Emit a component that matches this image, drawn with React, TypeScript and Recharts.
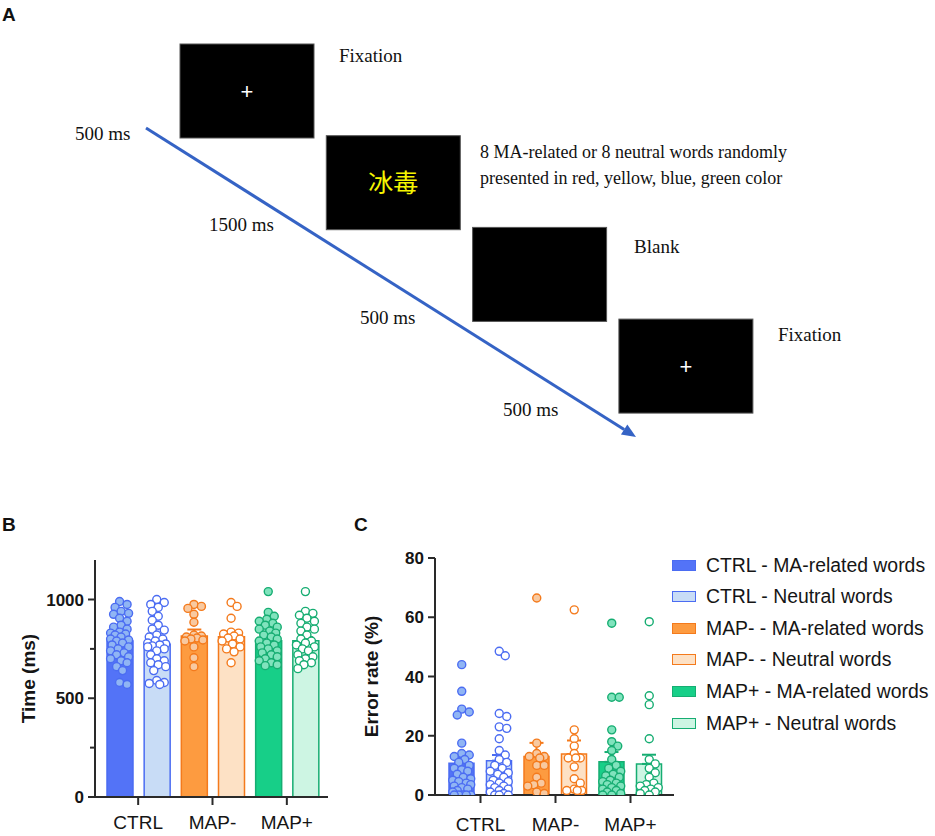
import React from 'react';
import { ComposedChart, Bar, Cell, ErrorBar, Scatter, XAxis, YAxis } from 'recharts';

const SANS = '"Liberation Sans", Arial, Helvetica, sans-serif';
const SERIF = '"Liberation Serif", "Times New Roman", serif';
const CJK = '"Noto Sans CJK SC", "Noto Sans CJK TC", sans-serif';
const AXIS = '#2a2a2a';

const groups = ['CTRL', 'MAP-', 'MAP+'];
const conditions = ['MA-related words', 'Neutral words'];

// B: reaction time (ms), bars = mean, whisker = SEM
const rtMaMean = [790, 815, 791];
const rtMaSem = [18, 33, 19];
const rtNeuMean = [773, 812, 791];
const rtNeuSem = [20, 26, 19];

const rtCtrlMa = [990, 975, 960, 940, 930, 925, 905, 890, 870, 860, 850, 835, 830, 825, 820, 810, 800, 795, 790, 780, 770, 760, 750, 740, 730, 720, 710, 700, 690, 680, 660, 640, 580, 570];
const rtCtrlNeu = [1000, 985, 975, 960, 940, 915, 895, 870, 850, 845, 820, 810, 800, 790, 780, 775, 770, 765, 760, 750, 740, 720, 700, 690, 680, 670, 660, 640, 590, 580, 575, 570];
const rtMapMinusMa = [975, 965, 955, 925, 885, 820, 815, 810, 805, 800, 795, 790, 760, 705, 660];
const rtMapMinusNeu = [985, 965, 905, 835, 830, 825, 815, 805, 800, 790, 775, 760, 750, 735, 680];
const rtMapPlusMa = [1040, 935, 915, 900, 890, 880, 870, 860, 850, 840, 830, 820, 810, 800, 790, 780, 770, 760, 750, 740, 730, 720, 710, 700, 690, 680, 670, 665];
const rtMapPlusNeu = [1040, 940, 930, 920, 905, 890, 880, 860, 850, 840, 820, 800, 790, 780, 770, 760, 750, 740, 720, 710, 700, 690, 680, 670, 650];

// C: error rate (%)
const erMaMean = [10.7, 13, 11.2];
const erMaSem = [1.8, 4.6, 3.3];
const erNeuMean = [11.6, 13.8, 10.5];
const erNeuSem = [1.9, 4.6, 3.1];

const erCtrlMa = [44, 35, 29, 28, 27, 17.5, 14, 13.5, 13, 12, 11, 10, 9, 8.5, 8, 7, 6, 5.5, 5, 4.5, 4, 3.5, 3, 2.5, 2, 1.5, 1, 0, 0, 0, 0, 0];
const erCtrlNeu = [48.5, 47, 27.5, 26.5, 23, 22.5, 19, 15, 13.5, 12, 11, 10, 9, 8, 7.5, 7, 6, 5, 4.5, 4, 3.5, 3, 2.5, 2, 1.5, 1, 0.5, 0, 0, 0];
const erMapMinusMa = [66.5, 17.5, 14, 13, 13, 12.5, 10, 10, 6, 4, 3.5, 3, 1, 0.5];
const erMapMinusNeu = [62.5, 22, 19, 16.5, 14, 12.5, 12.5, 12.5, 9.5, 5.5, 4, 2, 1.5, 1.5, 1.5];
const erMapPlusMa = [58, 33, 33, 22, 18, 16.5, 15, 12, 10, 9, 8, 7, 6.5, 6, 5, 4.5, 4, 3.5, 3, 2.5, 2, 1.5, 1, 0.5, 0, 0];
const erMapPlusNeu = [58.5, 33.5, 30.5, 19, 12, 10.5, 9, 7.5, 6, 4, 3.5, 3, 2.5, 2, 1.5, 1, 0.5, 0];

const palette = [
  { line: '#4b6cf2', dark: '#5373f7', light: '#c8dcf6', dot: '#90b5f4' },
  { line: '#f47a1c', dark: '#fd9b40', light: '#fde1c5', dot: '#f8c9a0' },
  { line: '#16ad72', dark: '#17cf88', light: '#cdf5e3', dot: '#80e3bd' },
];

// simple beeswarm: horizontal offsets (px) so dots don't pile up
function swarm(values: number[], pxPerValue: number, r: number, maxHalf: number) {
  const order = values.map((_, i) => i).sort((a, b) => values[b] - values[a]);
  const placed: { x: number; y: number }[] = [];
  const out = values.map(() => 0);
  const minD = r * 1.75;
  const steps = [0];
  for (let s = 1; s * 1.5 <= maxHalf; s++) steps.push(s * 1.5, -s * 1.5);
  for (const idx of order) {
    const py = values[idx] * pxPerValue;
    let best = 0;
    let bestScore = -Infinity;
    for (const dx of steps) {
      let m = Infinity;
      for (const p of placed) m = Math.min(m, Math.hypot(p.x - dx, p.y - py));
      if (m >= minD) {
        best = dx;
        break;
      }
      if (m > bestScore) {
        bestScore = m;
        best = dx;
      }
    }
    placed.push({ x: best, y: py });
    out[idx] = best;
  }
  return out;
}

type PanelProps = {
  maMean: number[];
  maSem: number[];
  neuMean: number[];
  neuSem: number[];
  points: number[][][];
  yMax: number;
  yTicks: number[];
  yLabeled: number[];
  yTitle: string;
  titleDx: number;
  width: number;
  height: number;
  margin: { top: number; right: number; bottom: number; left: number };
  yAxisWidth: number;
  xAxisHeight: number;
  pad: { left: number; right: number };
  barSize: number;
  labelGap: number;
};

function DotBarPanel(p: PanelProps) {
  const rows: any[] = [];
  groups.forEach((g, gi) => {
    rows.push({ key: `${g} - ${conditions[0]}`, value: p.maMean[gi], g: gi, c: 0, ['err' + gi]: [0, p.maSem[gi]] });
    rows.push({ key: `${g} - ${conditions[1]}`, value: p.neuMean[gi], g: gi, c: 1, ['err' + gi]: [0, p.neuSem[gi]] });
  });

  const plotW = p.width - p.margin.left - p.margin.right - p.yAxisWidth;
  const plotH = p.height - p.margin.top - p.margin.bottom - p.xAxisHeight;
  const pxPerUnit = (plotW - p.pad.left - p.pad.right) / 3;
  const pxPerValue = plotH / p.yMax;

  const YTick = (t: any) => {
    const major = p.yLabeled.includes(t.payload.value);
    return (
      <g>
        <line x1={t.x - (major ? 7 : 5)} x2={t.x} y1={t.y} y2={t.y} stroke={AXIS} strokeWidth={2} />
        {major && (
          <text x={t.x - 11} y={t.y} dy="0.36em" textAnchor="end" fontFamily={SANS} fontWeight={700} fontSize={17} fill="#151515">
            {t.payload.value}
          </text>
        )}
      </g>
    );
  };

  const XTick = (t: any) => (
    <g>
      <line x1={t.x} x2={t.x} y1={t.y} y2={t.y + 8} stroke={AXIS} strokeWidth={2} />
      <text x={t.x} y={t.y + p.labelGap} textAnchor="middle" fontFamily={SANS} fontSize={19} fill="#151515">
        {groups[Math.floor(t.payload.value)]}
      </text>
    </g>
  );

  const scatters: React.ReactNode[] = [];
  groups.forEach((_, gi) => {
    [0, 1].forEach((ci) => {
      const vals = p.points[gi][ci];
      const offs = swarm(vals, pxPerValue, 4, p.barSize / 2 - 3);
      const centre = (gi * 2 + ci + 0.5) / 2;
      const data = vals.map((v, i) => ({ x: centre + offs[i] / pxPerUnit, y: v }));
      const col = palette[gi];
      const fill = ci === 0 ? col.dot : '#ffffff';
      scatters.push(
        <Scatter
          key={`s${gi}${ci}`}
          data={data}
          xAxisId="num"
          yAxisId="pts"
          dataKey="y"
          isAnimationActive={false}
          shape={(s: any) => <circle cx={s.cx} cy={s.cy} r={4} fill={fill} stroke={col.line} strokeWidth={1.4} />}
        />
      );
    });
  });

  return (
    <ComposedChart width={p.width} height={p.height} data={rows} margin={p.margin} barSize={p.barSize}>
      <XAxis
        xAxisId="num"
        type="number"
        dataKey="x"
        domain={[0, 3]}
        ticks={[0.5, 1.5, 2.5]}
        height={p.xAxisHeight}
        padding={p.pad}
        tickSize={0}
        tickMargin={0}
        tickLine={false}
        axisLine={{ stroke: AXIS, strokeWidth: 2 }}
        tick={XTick}
        interval={0}
        allowDataOverflow
      />
      <XAxis xAxisId="bars" dataKey="key" type="category" hide height={0} padding={p.pad} />
      <YAxis
        type="number"
        domain={[0, p.yMax]}
        ticks={p.yTicks}
        width={p.yAxisWidth}
        tickSize={0}
        tickMargin={0}
        tickLine={false}
        tick={YTick}
        interval={0}
        axisLine={{ stroke: AXIS, strokeWidth: 2 }}
        allowDataOverflow
        label={{
          value: p.yTitle,
          angle: -90,
          position: 'center',
          dx: p.titleDx,
          style: { fontFamily: SANS, fontWeight: 700, fontSize: 19, fill: '#151515', textAnchor: 'middle' },
        }}
      />
      <YAxis yAxisId="pts" type="number" dataKey="y" domain={[0, p.yMax]} hide width={0} allowDataOverflow />
      <Bar xAxisId="bars" dataKey="value" isAnimationActive={false} strokeWidth={1.5}>
        {rows.map((r, i) => (
          <Cell key={i} fill={r.c === 0 ? palette[r.g].dark : palette[r.g].light} stroke={palette[r.g].line} />
        ))}
        {groups.map((_, gi) => (
          <ErrorBar key={gi} dataKey={'err' + gi} direction="y" width={7} stroke={palette[gi].line} strokeWidth={2} />
        ))}
      </Bar>
      {scatters}
    </ComposedChart>
  );
}

function PanelA() {
  const boxes = [0, 1, 2, 3].map((i) => ({ x: 180 + 146.3 * i, y: 44 + 91.7 * i }));
  const tail = { x: 146, y: 128 };
  const tip = { x: 636, y: 437 };
  const dx = tip.x - tail.x;
  const dy = tip.y - tail.y;
  const len = Math.hypot(dx, dy);
  const ux = dx / len;
  const uy = dy / len;
  const hl = 14;
  const hw = 6;
  const bx = tip.x - ux * hl;
  const by = tip.y - uy * hl;
  const txt = { fontFamily: SERIF, fontSize: 19, fill: '#111' } as const;
  return (
    <svg width={935} height={500} style={{ position: 'absolute', left: 0, top: 0 }}>
      <text x={2} y={21} fontFamily={SANS} fontWeight={700} fontSize={19} fill="#111">A</text>
      {boxes.map((b, i) => (
        <rect key={i} x={b.x} y={b.y} width={134} height={94} fill="#000" stroke="#555" strokeWidth={1} />
      ))}
      <text x={boxes[0].x + 67} y={boxes[0].y + 47} dy="0.35em" textAnchor="middle" fontFamily={SANS} fontSize={22} fill="#fff">+</text>
      <text x={boxes[3].x + 67} y={boxes[3].y + 47} dy="0.35em" textAnchor="middle" fontFamily={SANS} fontSize={22} fill="#fff">+</text>
      <text x={boxes[1].x + 67} y={boxes[1].y + 47} dy="0.36em" textAnchor="middle" fontFamily={CJK} fontSize={25} fill="#f5f500">冰毒</text>
      <line x1={tail.x} y1={tail.y} x2={bx} y2={by} stroke="#3563c5" strokeWidth={3} />
      <polygon
        points={`${tip.x},${tip.y} ${bx - uy * hw},${by + ux * hw} ${bx + uy * hw},${by - ux * hw}`}
        fill="#3563c5"
      />
      <text x={339} y={62} {...txt}>Fixation</text>
      <text x={75} y={140} {...txt}>500 ms</text>
      <text x={480} y={158} {...txt} fontSize={18}>8 MA-related or 8 neutral words randomly</text>
      <text x={480} y={184} {...txt} fontSize={18}>presented in red, yellow, blue, green color</text>
      <text x={209} y={231} {...txt}>1500 ms</text>
      <text x={634} y={253} {...txt}>Blank</text>
      <text x={360} y={324} {...txt}>500 ms</text>
      <text x={778} y={341} {...txt}>Fixation</text>
      <text x={503} y={416} {...txt}>500 ms</text>
    </svg>
  );
}

function Legend() {
  const items: { label: string; fill: string; stroke: string }[] = [];
  groups.forEach((g, gi) => {
    items.push({ label: `${g} - ${conditions[0]}`, fill: palette[gi].dark, stroke: palette[gi].line });
    items.push({ label: `${g} - ${conditions[1]}`, fill: palette[gi].light, stroke: palette[gi].line });
  });
  return (
    <div style={{ position: 'absolute', left: 672, top: 554 }}>
      {items.map((it, i) => (
        <div key={i} style={{ position: 'absolute', left: 0, top: i * 31.6, display: 'flex', alignItems: 'center', height: 22, whiteSpace: 'nowrap' }}>
          <div style={{ width: 22, height: 9, background: it.fill, border: `1.5px solid ${it.stroke}` }} />
          <span style={{ marginLeft: 10, fontFamily: SANS, fontSize: 19.4, color: '#151515' }}>{it.label}</span>
        </div>
      ))}
    </div>
  );
}

export default function App() {
  const letter = { position: 'absolute', fontFamily: SANS, fontWeight: 700, fontSize: 19, color: '#111', lineHeight: 1 } as const;
  return (
    <div style={{ position: 'absolute', left: 0, top: 0, width: 935, height: 836, background: '#fff', overflow: 'hidden' }}>
      <PanelA />
      <div style={{ ...letter, left: 2, top: 515 }}>B</div>
      <div style={{ ...letter, left: 354, top: 515 }}>C</div>
      <div style={{ position: 'absolute', left: 0, top: 510 }}>
        <DotBarPanel
          maMean={rtMaMean}
          maSem={rtMaSem}
          neuMean={rtNeuMean}
          neuSem={rtNeuSem}
          points={[
            [rtCtrlMa, rtCtrlNeu],
            [rtMapMinusMa, rtMapMinusNeu],
            [rtMapPlusMa, rtMapPlusNeu],
          ]}
          yMax={1200}
          yTicks={[0, 250, 500, 750, 1000]}
          yLabeled={[0, 500, 1000]}
          yTitle="Time (ms)"
          titleDx={-19.5}
          width={340}
          height={326}
          margin={{ top: 50, right: 12, bottom: 0, left: 0 }}
          yAxisWidth={95}
          xAxisHeight={39}
          pad={{ left: 6, right: 4 }}
          barSize={26}
          labelGap={32}
        />
      </div>
      <div style={{ position: 'absolute', left: 330, top: 510 }}>
        <DotBarPanel
          maMean={erMaMean}
          maSem={erMaSem}
          neuMean={erNeuMean}
          neuSem={erNeuSem}
          points={[
            [erCtrlMa, erCtrlNeu],
            [erMapMinusMa, erMapMinusNeu],
            [erMapPlusMa, erMapPlusNeu],
          ]}
          yMax={80}
          yTicks={[0, 20, 40, 60, 80]}
          yLabeled={[0, 20, 40, 60, 80]}
          yTitle="Error rate (%)"
          titleDx={-11}
          width={605}
          height={326}
          margin={{ top: 48, right: 261, bottom: 0, left: 0 }}
          yAxisWidth={105}
          xAxisHeight={41}
          pad={{ left: 8, right: 6 }}
          barSize={25}
          labelGap={36}
        />
      </div>
      <Legend />
    </div>
  );
}
